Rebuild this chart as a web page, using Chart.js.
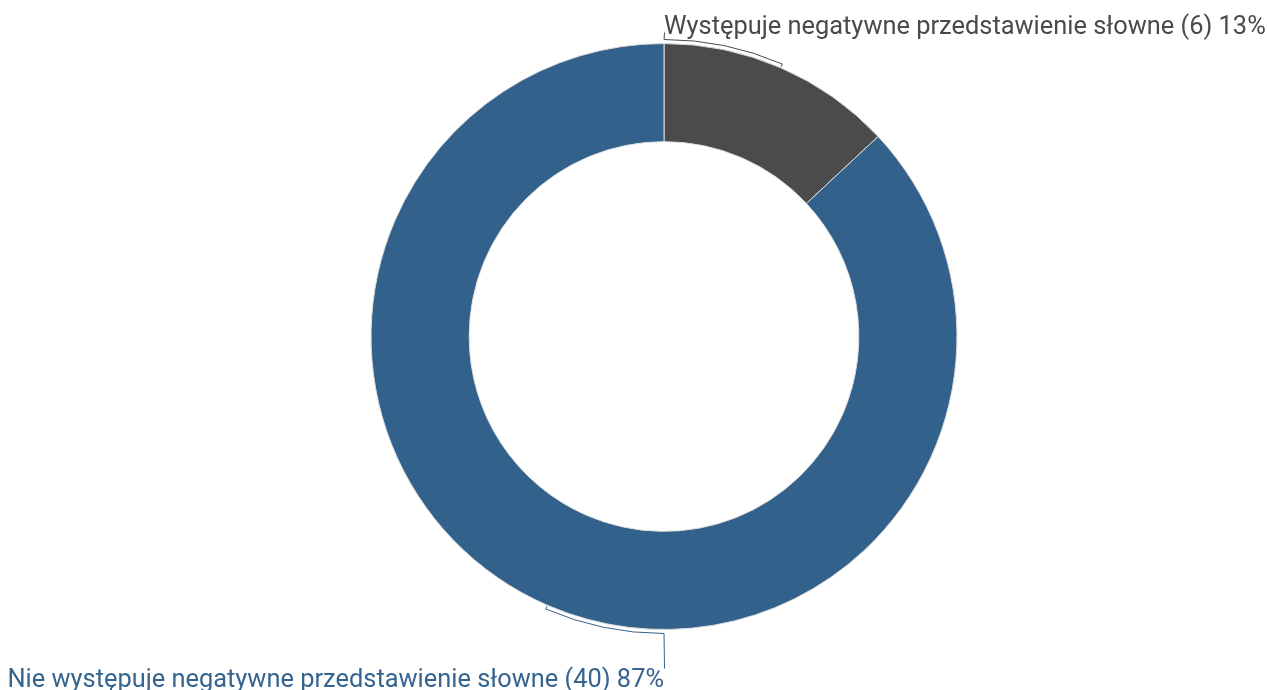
<!DOCTYPE html>
<html>
<head>
<meta charset="utf-8">
<script src="https://cdn.jsdelivr.net/npm/chart.js@4.4.1/dist/chart.umd.min.js"></script>
<style>
html,body{margin:0;padding:0;background:#fff;}
#wrap{width:1267px;height:690px;position:relative;}
</style>
</head>
<body>
<div id="wrap"><canvas id="c" width="1267" height="690"></canvas></div>
<script>
const categories = ["Występuje negatywne przedstawienie słowne", "Nie występuje negatywne przedstawienie słowne"];
const counts = [6, 40];
const percentLabels = ["13%", "87%"];
const colors = ["#4b4b4b", "#32618b"];
const textColors = ["#4a4a4a", "#35648f"];

const labelPlugin = {
  id: 'sideLabels',
  afterDraw(chart) {
    const ctx = chart.ctx;
    const meta = chart.getDatasetMeta(0);
    ctx.save();
    ctx.font = '25.4px Roboto';
    meta.data.forEach((arc, i) => {
      const p = arc.getProps(['x','y','startAngle','endAngle','outerRadius'], true);
      const cx = p.x, cy = p.y, R = p.outerRadius;
      const mid = (p.startAngle + p.endAngle) / 2;
      const rr = R + 4;
      const up = Math.sin(mid) < 0;
      const anchor = up ? -Math.PI/2 : Math.PI/2;
      ctx.strokeStyle = colors[i];
      ctx.lineWidth = 1;
      ctx.beginPath();
      ctx.moveTo(cx + Math.cos(mid)*(R+1), cy + Math.sin(mid)*(R+1));
      ctx.lineTo(cx + Math.cos(mid)*rr, cy + Math.sin(mid)*rr);
      let a0 = mid, a1 = anchor;
      while (a0 - a1 > Math.PI) a0 -= 2*Math.PI;
      while (a1 - a0 > Math.PI) a0 += 2*Math.PI;
      ctx.arc(cx, cy, rr, a0, a1, a1 < a0);
      const xs = cx + 0.5;
      if (up) {
        ctx.lineTo(xs, cy - rr - 7);
      } else {
        ctx.lineTo(xs, cy + rr + 35);
      }
      ctx.stroke();
      const text = categories[i] + ' (' + counts[i] + ') ' + percentLabels[i];
      ctx.fillStyle = textColors[i];
      ctx.textBaseline = 'alphabetic';
      if (up) {
        ctx.textAlign = 'left';
        ctx.fillText(text, cx, 34);
      } else {
        ctx.textAlign = 'right';
        ctx.fillText(text, cx, 687);
      }
    });
    ctx.restore();
  }
};

new Chart(document.getElementById('c'), {
  type: 'doughnut',
  data: {
    labels: categories,
    datasets: [{
      data: counts,
      backgroundColor: colors,
      borderColor: '#dddddd',
      borderWidth: 1,
      hoverOffset: 0
    }]
  },
  options: {
    responsive: false,
    animation: false,
    cutout: '66.5%',
    layout: { padding: { top: 43, bottom: 60, left: 61, right: 0 } },
    plugins: { legend: { display: false }, tooltip: { enabled: false } }
  },
  plugins: [labelPlugin]
});
</script>
</body>
</html>
